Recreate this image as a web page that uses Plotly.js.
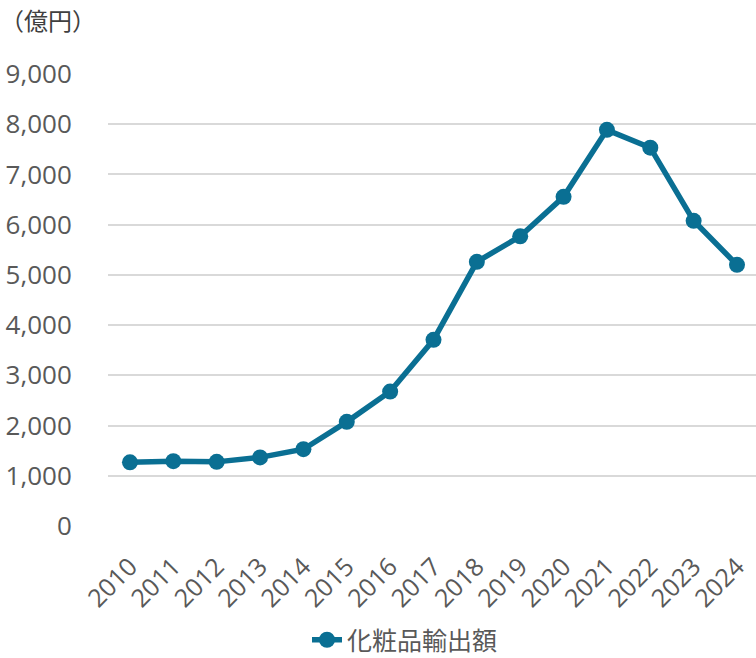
<!DOCTYPE html>
<html>
<head>
<meta charset="utf-8">
<script src="https://cdn.plot.ly/plotly-3.0.1.min.js"></script>
<style>html,body{margin:0;padding:0;background:#fff;}#chart{width:756px;height:658px;}</style>
</head>
<body>
<div id="chart"></div>
<script>
const years = ["2010","2011","2012","2013","2014","2015","2016","2017","2018","2019","2020","2021","2022","2023","2024"];
const exportValues = [1267, 1290, 1277, 1366, 1529, 2074, 2677, 3707, 5260, 5768, 6554, 7888, 7534, 6077, 5200];
const seriesName = "化粧品輸出額";
const unitLabel = "（億円）";
const yTicks = [0,1000,2000,3000,4000,5000,6000,7000,8000,9000];
const yTickText = ["0","1,000","2,000","3,000","4,000","5,000","6,000","7,000","8,000","9,000"];

const fontFam = '"Open Sans", "Noto Sans CJK JP", sans-serif';
const lineColor = '#0a6f93';

Plotly.newPlot('chart', [{
  x: years, y: exportValues, name: seriesName, type: 'scatter', mode: 'lines+markers',
  line: {color: lineColor, width: 5.5},
  marker: {color: lineColor, size: 16},
  showlegend: true
}], {
  width: 756, height: 658,
  paper_bgcolor: '#fff', plot_bgcolor: '#fff',
  margin: {l: 108, r: 0, t: 74, b: 132},
  font: {family: fontFam, color: '#595959'},
  title: {text: unitLabel, font: {size: 24, color: '#404040', family: fontFam}, xref: 'container', x: 0.0, xanchor: 'left', yref: 'container', y: 1 - 22/658, yanchor: 'middle', pad: {l: 0}},
  xaxis: {
    type: 'category', range: [-0.507, 14.438], tickangle: -45,
    tickfont: {size: 25, color: '#595959'},
    showgrid: false, zeroline: false, showline: false,
    ticks: 'outside', ticklen: 15, tickcolor: 'rgba(0,0,0,0)'
  },
  yaxis: {
    range: [0, 9000], tickvals: yTicks, ticktext: yTickText,
    tickfont: {size: 26, color: '#595959'},
    showgrid: true, gridcolor: '#d9d9d9', gridwidth: 2,
    zeroline: false, showline: false,
    ticks: 'outside', ticklen: 30, tickcolor: 'rgba(0,0,0,0)'
  },
  showlegend: true,
  legend: {orientation: 'h', xref: 'container', yref: 'container', x: 405/756, xanchor: 'center', y: 1 - 640/658, yanchor: 'middle', font: {size: 25, color: '#595959', family: fontFam}}
}, {displayModeBar: false, staticPlot: true});
</script>
</body>
</html>
